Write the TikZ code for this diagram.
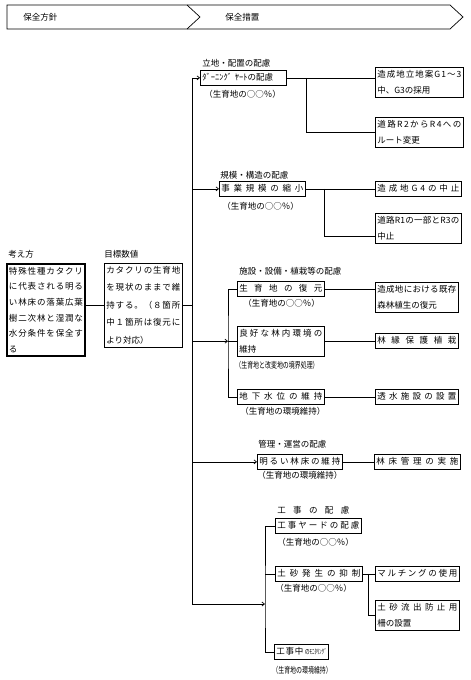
\documentclass[tikz,border=0pt]{standalone}
\usepackage{fontspec}
\setmainfont{Noto Sans CJK JP}
\newfontfamily\narrowjp[FakeStretch=0.7]{Noto Sans CJK JP}
\usetikzlibrary{arrows.meta}

\def\spreadA#1#2{#1\ifx\relax#2\else\hfill\expandafter\spreadA\expandafter#2\fi}
\newcommand{\spreadto}[2]{\makebox[#1][s]{\spreadA#2\relax}}
\newcommand{\spreadline}[1]{\spreadto{\hsize}{#1}}

\tikzset{
  box/.style={draw, line width=0.7pt, anchor=north west, inner xsep=2pt, inner ysep=3pt,
    text height=7pt, align=left, font={\fontsize{8.5}{16}\selectfont}},
  one/.style={text depth=2pt},
  note/.style={anchor=west, inner sep=0pt, font={\fontsize{8.5}{10}\selectfont}},
  head/.style={anchor=west, inner sep=0pt, font={\fontsize{8.5}{10}\selectfont}},
  narrow/.style={font={\narrowjp\fontsize{8.5}{10}\selectfont}},
  arr/.style={-{Straight Barb[length=2.5pt,width=4pt]}}
}

\begin{document}
\begin{tikzpicture}[x=1pt, y=-1pt, line width=0.7pt]

\useasboundingbox (0,0) rectangle (471,680);

\draw (7,5) -- (450,5) -- (463,17) -- (450,29) -- (7,29) -- cycle;
\draw (187,5) -- (200,17) -- (187,29);

\node [head] (hpolicy) at (23,17) {保全方針};
\node [head] (hmeasure) at (225,17) {保全措置};


\node [head] (lphilo) at (8,254) {考え方};

\node [box, line width=2pt, text width=74pt, font={\fontsize{8.5}{15.7}\selectfont}] (philo)
 at (6,263) {\spreadline{特殊性種カタクリ}\par\spreadline{に代表される明る}\par
\spreadline{い林床の落葉広葉}\par\spreadline{樹二次林と湿潤な}\par
\spreadline{水分条件を保全す}\par る};

\node [head] (lgoal) at (104,254) {目標数値};

\node [box, text width=74pt, font={\fontsize{8.5}{17.5}\selectfont}] (goal)
 at (104,263) {\spreadline{カタクリの生育地}\par\spreadline{を現状のままで維}\par
\spreadline{持する。（８箇所}\par\spreadline{中１箇所は復元に}\par より対応）};

\coordinate (trunk) at (192,78);


\node [head] (lsite) at (202,63) {立地・配置の配慮};
\node [box, one, text width=82pt] (turn) at (200,70) {ﾀﾞｰﾆﾝｸﾞ ﾔｰﾄの配慮};
\node [note] (nturn) at (204,94) {（生育地の○○％）};

\node [box, text width=84pt] (g1) at (375,67) {\spreadline{造成地立地案G1～3}\par 中、G3の採用};
\node [box, text width=84pt] (r2) at (375,117) {\spreadline{道路R2からR4への}\par ルート変更};

\coordinate (j1) at (306,78);


\node [head] (lscale) at (220,175) {規模・構造の配慮};
\node [box, one, text width=82pt] (scale) at (219,181) {\spreadline{事業規模の縮小}};
\node [note] (nscale) at (222,206) {（生育地の○○％）};

\node [box, one, text width=82pt] (g4) at (375,181) {\spreadline{造成地G4の中止}};
\node [box, text width=82pt] (r1) at (375,213) {\spreadline{道路R1の一部とR3の}\par 中止};

\coordinate (j2) at (324,189);


\node [head] (lfacil) at (239,271) {施設・設備・植栽等の配慮};
\node [box, one, text width=83pt] (restore) at (237,281) {\spreadline{生育地の復元}};
\node [note] (nrestore) at (243,303) {（生育地の○○％）};

\node [box, text width=79pt] (forest) at (375,282) {\spreadline{造成地における既存}\par 森林植生の復元};

\node [box, text width=83pt] (inner) at (237,326) {\spreadline{良好な林内環境の}\par 維持};
\node [note, narrow] (ninner) at (235,365) {（生育地と改変地の境界処理）};

\node [box, one, text width=79pt] (edge) at (375,333) {\spreadline{林縁保護植栽}};

\node [box, one, text width=83pt] (water) at (237,389) {\spreadline{地下水位の維持}};
\node [note] (nwater) at (240,411) {（生育地の環境維持）};

\node [box, one, text width=79pt] (perm) at (375,389) {\spreadline{透水施設の設置}};

\coordinate (j3) at (228,341);


\node [head] (lmanage) at (258,444) {管理・運営の配慮};
\node [box, one, text width=81pt] (bright) at (257,454) {\spreadline{明るい林床の維持}};
\node [note] (nbright) at (257,475) {（生育地の環境維持）};

\node [box, one, text width=82pt] (floor) at (374,454) {\spreadline{林床管理の実施}};


\node [head] (lwork) at (277,510) {\spreadto{72pt}{工事の配慮}};
\node [box, one, text width=82pt] (yard) at (275,518) {\spreadline{工事ヤードの配慮}};
\node [note] (nyard) at (277,542) {（生育地の○○％）};

\node [box, one, text width=83pt] (soil) at (275,566) {\spreadline{土砂発生の抑制}};
\node [note] (nsoil) at (275,588) {（生育地の○○％）};

\node [box, one, text width=80pt] (mulch) at (375,566) {\spreadline{マルチングの使用}};
\node [box, text width=80pt] (fence) at (375,600) {\spreadline{土砂流出防止用}\par 柵の設置};

\node [box, one] (monitor) at (274,644) {\spreadto{27pt}{工事中}\,{\narrowjp\fontsize{7}{8}\selectfont のﾓﾆﾀﾘﾝｸﾞ}};
\node [note, narrow] (nmonitor) at (272,670) {（生育地の環境維持）};

\coordinate (j5) at (265,604);
\coordinate (j6) at (368,574);


\draw (goal.west -| philo.east) -- (goal.west);
\draw (goal.east) -- (goal.east -| trunk);
\draw (turn.west -| trunk) -- (j5 -| trunk);

\draw [arr] (turn.west -| trunk) -- (turn.west);
\draw (turn.east) -- (turn.east -| g1.west);
\draw (turn.east -| j1) |- (r2.west);

\draw [arr] (scale.west -| trunk) -- (scale.west);
\draw (scale.east) -- (scale.east -| g4.west);
\draw (scale.east -| j2) |- ([yshift=-8pt]r1.west);

\draw [arr] (inner.west -| trunk) -- (inner.west -| j3);
\draw (restore.west) -| (j3) |- (water.west);
\draw (inner.west -| j3) -- (inner.west);
\draw (restore.east) -- (restore.east -| forest.west);
\draw (inner.east) -- (inner.east -| edge.west);
\draw (water.east) -- (water.east -| perm.west);

\draw [arr] (bright.west -| trunk) -- (bright.west);
\draw (bright.east) -- (bright.east -| floor.west);

\draw [arr] (j5 -| trunk) -- (j5);
\draw (yard.west) -| (j5) |- (monitor.west);
\draw (soil.west) -- (soil.west -| j5);
\draw (soil.east) -- (soil.east -| mulch.west);
\draw (soil.east -| j6) |- (fence.west);

\end{tikzpicture}
\end{document}
